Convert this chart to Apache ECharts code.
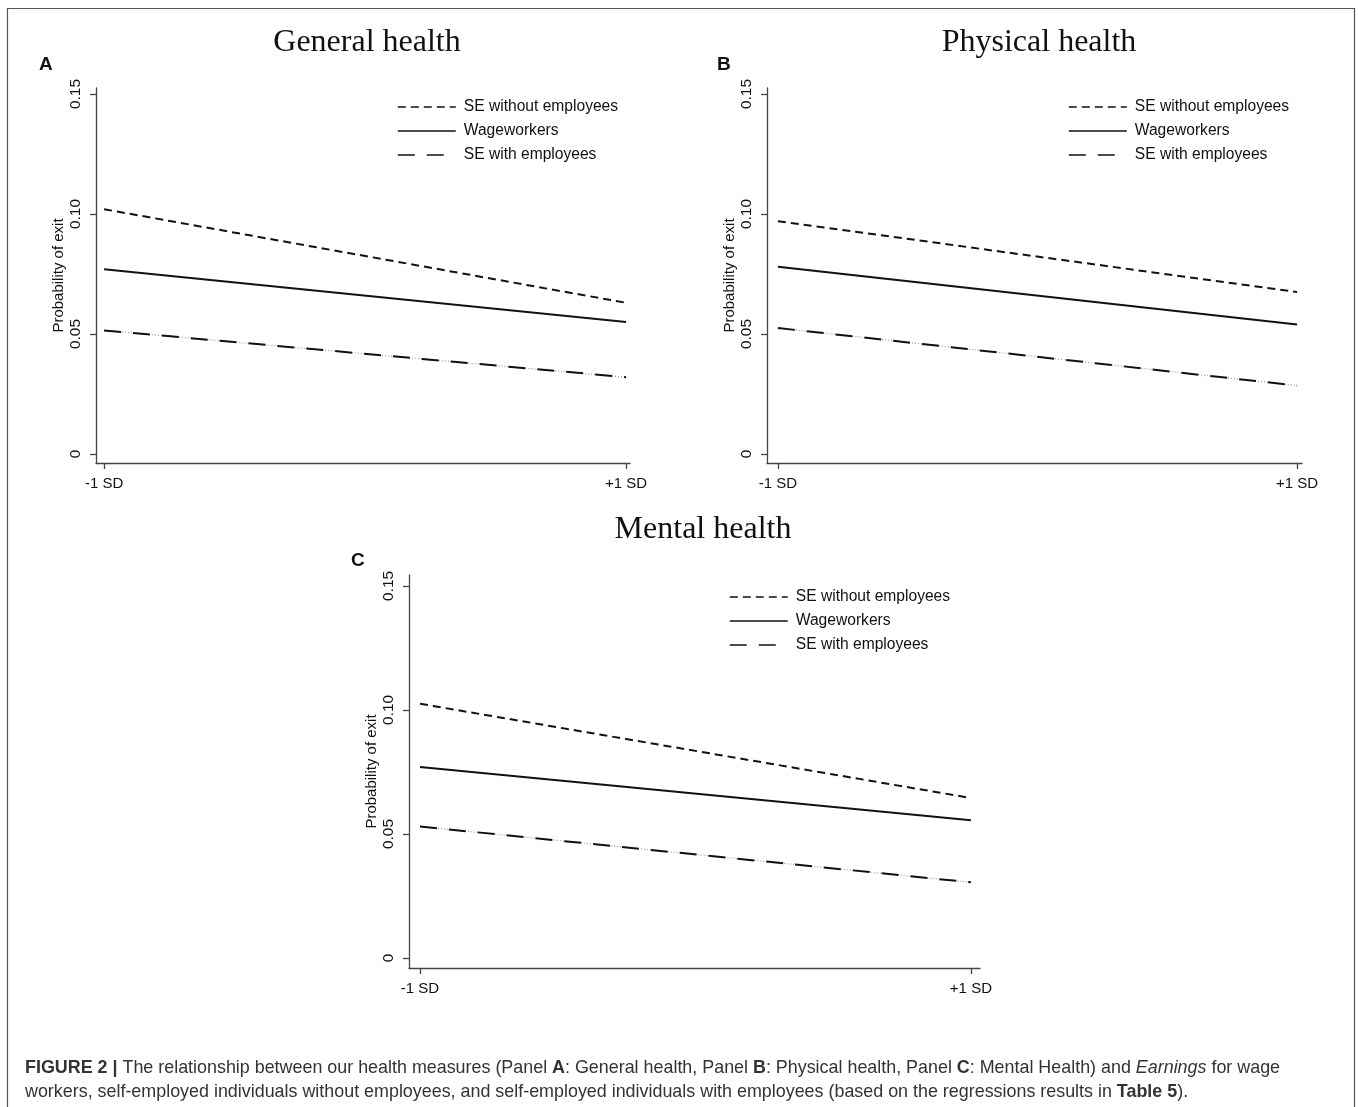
<!DOCTYPE html>
<html>
<head>
<meta charset="utf-8">
<script src="https://cdn.jsdelivr.net/npm/echarts@6/dist/echarts.min.js"></script>
<style>
html,body{margin:0;padding:0;background:#fff;}
#chart{width:1358px;height:1107px;}
</style>
</head>
<body>
<div id="chart"></div>
<script>
// ---- data ----
var xValues = [-1, 1];
var xTickLabels = ['-1 SD', '+1 SD'];
var yTickValues = [0, 0.05, 0.10, 0.15];
var yTickLabels = ['0', '0.05', '0.10', '0.15'];
var seriesNames = ['SE without employees', 'Wageworkers', 'SE with employees'];
var panelTitles = ['General health', 'Physical health', 'Mental health'];
var panelLetters = ['A', 'B', 'C'];
// Panel A: General health
var generalSEwithout = [0.102, 0.063];
var generalWage = [0.077, 0.055];
var generalSEwith = [0.0515, 0.032];
// Panel B: Physical health
var physicalSEwithout = [0.097, 0.0675];
var physicalWage = [0.078, 0.054];
var physicalSEwith = [0.0525, 0.0285];
// Panel C: Mental health
var mentalSEwithout = [0.1025, 0.0645];
var mentalWage = [0.077, 0.0555];
var mentalSEwith = [0.053, 0.0305];

var panelData = [
  [generalSEwithout, generalWage, generalSEwith],
  [physicalSEwithout, physicalWage, physicalSEwith],
  [mentalSEwithout, mentalWage, mentalSEwith]
];

function pts(vals) { return xValues.map(function (x, i) { return [x, vals[i]]; }); }

var layout = [
  {grid: {left: 96, top: 88, width: 534, height: 375}, xmin: -1.031, xmax: 1.015, ymin: -0.00375, ymax: 0.1525,
   legend: {left: 397, top: 99}, title: {cx: 362, top: 22}, letter: {left: 34, top: 50}},
  {grid: {left: 767, top: 88, width: 535, height: 375}, xmin: -1.042, xmax: 1.019, ymin: -0.00375, ymax: 0.1525,
   legend: {left: 1068, top: 99}, title: {cx: 1034, top: 22}, letter: {left: 712, top: 50}},
  {grid: {left: 409, top: 575, width: 571, height: 393}, xmin: -1.04, xmax: 1.033, ymin: -0.00403, ymax: 0.1544,
   legend: {left: 729, top: 589}, title: {cx: 698, top: 509}, letter: {left: 346, top: 546}}
];

var font = 'Liberation Sans, Arial, sans-serif';
var axisColor = '#444';
var grids = [], xAxes = [], yAxes = [], series = [], legends = [], titles = [];

layout.forEach(function (L, p) {
  grids.push(L.grid);
  xAxes.push({
    type: 'value', gridIndex: p, min: L.xmin, max: L.xmax,
    splitLine: {show: false},
    axisLine: {show: true, onZero: false, lineStyle: {color: axisColor, width: 1.3}},
    axisTick: {show: true, length: 6, customValues: xValues, lineStyle: {color: axisColor, width: 1.3}},
    axisLabel: {customValues: xValues, margin: 13, fontFamily: font, fontSize: 15, color: '#111',
      formatter: function (v) { return xTickLabels[xValues.indexOf(v)] || ''; }}
  });
  yAxes.push({
    type: 'value', gridIndex: p, min: L.ymin, max: L.ymax,
    splitLine: {show: false},
    name: 'Probability of exit', nameLocation: 'middle', nameGap: 30, nameRotate: 90,
    nameTextStyle: {fontFamily: font, fontSize: 15, color: '#111'},
    axisLine: {show: true, onZero: false, lineStyle: {color: axisColor, width: 1.3}},
    axisTick: {show: true, length: 6, customValues: yTickValues, lineStyle: {color: axisColor, width: 1.3}},
    axisLabel: {customValues: yTickValues, rotate: 90, margin: 12, fontFamily: font, fontSize: 15.5, color: '#111',
      formatter: function (v) {
        for (var i = 0; i < yTickValues.length; i++) { if (Math.abs(yTickValues[i] - v) < 1e-9) return yTickLabels[i]; }
        return '';
      }}
  });
  var d = panelData[p];
  // SE without employees: dashed
  series.push({name: seriesNames[0], type: 'line', xAxisIndex: p, yAxisIndex: p, data: pts(d[0]),
    symbol: 'none', silent: true, color: '#111', lineStyle: {color: '#111', width: 2, type: [8, 5]}, z: 3});
  // Wageworkers: solid
  series.push({name: seriesNames[1], type: 'line', xAxisIndex: p, yAxisIndex: p, data: pts(d[1]),
    symbol: 'none', silent: true, color: '#111', lineStyle: {color: '#111', width: 2, type: 'solid'}, z: 3});
  // SE with employees: long dash + faint dots
  series.push({name: seriesNames[2] + ' dots', type: 'line', xAxisIndex: p, yAxisIndex: p, data: pts(d[2]),
    symbol: 'none', silent: true, color: '#999', lineStyle: {color: '#999', width: 1.2, type: [1, 2]}, z: 2});
  series.push({name: seriesNames[2], type: 'line', xAxisIndex: p, yAxisIndex: p, data: pts(d[2]),
    symbol: 'none', silent: true, color: '#111', lineStyle: {color: '#111', width: 2, type: [17, 12]}, z: 3});

  legends.push({
    data: seriesNames, orient: 'vertical', left: L.legend.left, top: L.legend.top, padding: 0,
    itemWidth: 58, itemHeight: 14, itemGap: 8, selectedMode: false,
    itemStyle: {opacity: 0, color: 'rgba(0,0,0,0)', borderWidth: 0},
    lineStyle: {width: 1.6},
    textStyle: {fontFamily: font, fontSize: 15.6, color: '#111', padding: [0, 0, 0, 3]}
  });
  titles.push({text: panelTitles[p], left: L.title.cx, top: L.title.top, textAlign: 'center',
    textStyle: {fontFamily: 'Liberation Serif, Times New Roman, serif', fontSize: 32, fontWeight: 'normal', color: '#111'}});
  titles.push({text: panelLetters[p], left: L.letter.left, top: L.letter.top,
    textStyle: {fontFamily: font, fontSize: 19, fontWeight: 'bold', color: '#111'}});
});

var chart = echarts.init(document.getElementById('chart'), null, {renderer: 'canvas'});
var capFont = 17.9;
chart.setOption({
  backgroundColor: '#fff',
  animation: false,
  title: titles,
  grid: grids,
  xAxis: xAxes,
  yAxis: yAxes,
  legend: legends,
  series: series,
  graphic: [
    {type: 'rect', shape: {x: 7.5, y: 8.5, width: 1347, height: 1110}, style: {fill: 'none', stroke: '#555', lineWidth: 1.2}, silent: true},
    {type: 'text', left: 25, top: 1059, silent: true, style: {
      text: '{b|FIGURE 2 |} The relationship between our health measures (Panel {b|A}: General health, Panel {b|B}: Physical health, Panel {b|C}: Mental Health) and {i|Earnings} for wage',
      font: capFont + 'px ' + font, fill: '#333',
      rich: {b: {fontWeight: 'bold', fontSize: capFont, fontFamily: font, fill: '#333'}, i: {fontStyle: 'italic', fontSize: capFont, fontFamily: font, fill: '#333'}}
    }},
    {type: 'text', left: 25, top: 1083, silent: true, style: {
      text: 'workers, self-employed individuals without employees, and self-employed individuals with employees (based on the regressions results in {b|Table 5}).',
      font: capFont + 'px ' + font, fill: '#333',
      rich: {b: {fontWeight: 'bold', fontSize: capFont, fontFamily: font, fill: '#333'}}
    }}
  ]
});
</script>
</body>
</html>
